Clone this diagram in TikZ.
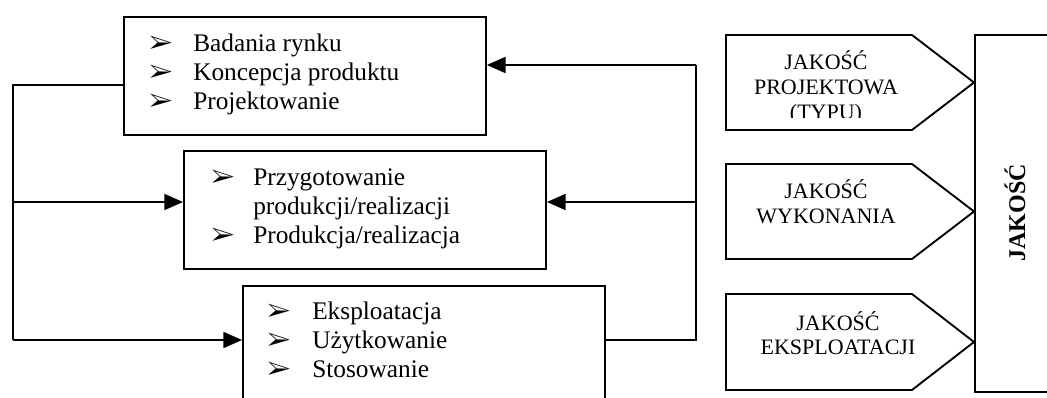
\documentclass[tikz,border=0pt]{standalone}
\usepackage{fontspec}
\setmainfont{Liberation Serif}
\usepackage{pifont}
\usetikzlibrary{arrows.meta}

\tikzset{
  listbox/.style={draw, line width=1.4pt, anchor=north west, inner sep=0pt},
  conn/.style={line width=1.4pt},
  arr/.style={line width=1.4pt, -{Triangle[length=14pt,width=12pt]}},
  lstxt/.style={anchor=base west, inner sep=0pt, font=\fontsize{19}{22}\selectfont},
  pentxt/.style={anchor=base, inner sep=0pt, font=\fontsize{16.5}{19}\selectfont},
}
\newcommand{\arrbullet}{{\fontsize{19}{19}\selectfont\ding{226}}}

\begin{document}
\begin{tikzpicture}[x=0.75pt,y=0.75pt,yscale=-1,xscale=1]
\useasboundingbox (0,0) rectangle (1047,398);
\clip (0,0) rectangle (1047,398);

% stages
\node[listbox, minimum width=362*0.75pt, minimum height=118*0.75pt] (box1) at (123,16) {};
\node[listbox, minimum width=362*0.75pt, minimum height=118*0.75pt] (box2) at (183,150) {};
\node[listbox, minimum width=362*0.75pt, minimum height=140*0.75pt] (box3) at (242,285) {};

\foreach \y/\t [count=\i] in {52/Badania rynku, 81/Koncepcja produktu, 110/Projektowanie} {
  \node[lstxt] (b1-\i) at (149,\y) {\arrbullet};
  \node[lstxt] (t1-\i) at (193,\y) {\t};
}
\node[lstxt] (b2-1) at (211,186) {\arrbullet};
\node[lstxt] (t2-1) at (253,186) {Przygotowanie};
\node[lstxt] (t2-2) at (253,215) {produkcji/realizacji};
\node[lstxt] (b2-3) at (211,244) {\arrbullet};
\node[lstxt] (t2-3) at (253,244) {Produkcja/realizacja};
\foreach \y/\t [count=\i] in {320/Eksploatacja, 349/Użytkowanie, 378/Stosowanie} {
  \node[lstxt] (b3-\i) at (267,\y) {\arrbullet};
  \node[lstxt] (t3-\i) at (312,\y) {\t};
}

% feedback lines
\coordinate (lf1) at (13,85);
\coordinate (lf2) at (13,202);
\coordinate (lf3) at (13,340);
\coordinate (rt1) at (696,65);
\coordinate (rt2) at (696,202);
\coordinate (rt3) at (696,340);
\draw[conn] (lf1 -| box1.west) -- (lf1) -- (lf3);
\draw[arr] (lf2) -- (lf2 -| box2.west);
\draw[arr] (lf3) -- (lf3 -| box3.west);
\draw[conn] (rt3 -| box3.east) -- (rt3) -- (rt1);
\draw[arr] (rt1) -- (rt1 -| box1.east);
\draw[arr] (rt2) -- (rt2 -| box2.east);

% quality kinds
\foreach \yt/\yb in {35/130, 164/259, 294/390}
  \draw[conn] (726,\yt) -- (912,\yt) -- (974,{(\yt+\yb)/2}) -- (912,\yb) -- (726,\yb) -- cycle;

\node[pentxt] (p1-1) at (826,70) {JAKOŚĆ};
\node[pentxt] (p1-2) at (826,95) {PROJEKTOWA};
\begin{scope}
\clip (726,35) rectangle (912,118);
\node[pentxt] (p1-3) at (826,120) {(TYPU)};
\end{scope}
\node[pentxt] (p2-1) at (826,199) {JAKOŚĆ};
\node[pentxt] (p2-2) at (826,224) {WYKONANIA};
\node[pentxt] (p3-1) at (838,331) {JAKOŚĆ};
\node[pentxt] (p3-2) at (838,355) {EKSPLOATACJI};

\node[listbox, minimum width=100*0.75pt, minimum height=357*0.75pt] (jak) at (974,34) {};
\node[anchor=base, rotate=90, inner sep=0pt, font=\fontsize{18}{18}\selectfont\bfseries] (jaktxt) at (1025,213) {JAKOŚĆ};

\end{tikzpicture}
\end{document}
